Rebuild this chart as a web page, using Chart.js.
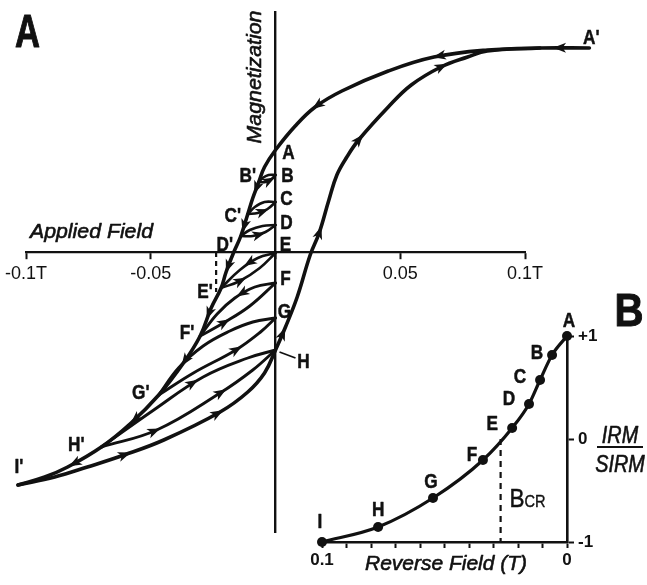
<!DOCTYPE html>
<html>
<head>
<meta charset="utf-8">
<script src="https://cdn.jsdelivr.net/npm/chart.js@4.4.1/dist/chart.umd.min.js"></script>
<style>
  html, body { margin: 0; padding: 0; background: #fff; }
  #wrap { position: relative; width: 647px; height: 585px; overflow: hidden; background: #fff; }
  #hyst { position: absolute; left: 0; top: 0; }
  #irm { position: absolute; left: 300px; top: 290px; }
</style>
</head>
<body>
<div id="wrap">
  <canvas id="hyst" width="647" height="585"></canvas>
  <canvas id="irm" width="347" height="295"></canvas>
</div>
<script>
// ---------- Panel A: hysteresis loop with backfield recoil loops ----------
// field in tesla, magnetization normalised to the saturation plateau
const fieldTicks = [-0.1, -0.05, 0, 0.05, 0.1];
const fieldTickLabels = ['-0.1T', '-0.05', '', '0.05', '0.1T'];

// upper (descending) branch, from A' down to I'
const descendingBranch = [
  [0.1258, 1.02], [0.1060, 1.02], [0.0849, 1.01], [0.0635, 0.975], [0.0452, 0.905],
  [0.0266, 0.805], [0.0159, 0.725], [0.0079, 0.63], [0, 0.51], [-0.0044, 0.425],
  [-0.0067, 0.35], [-0.0091, 0.27], [-0.0111, 0.19], [-0.0139, 0.08], [-0.0167, 0],
  [-0.0198, -0.10], [-0.0218, -0.18], [-0.0258, -0.28], [-0.0302, -0.42], [-0.0369, -0.555],
  [-0.0468, -0.715], [-0.0579, -0.855], [-0.0698, -0.975], [-0.0833, -1.075], [-0.0925, -1.125],
  [-0.1032, -1.165]
];
// lower (ascending) branch, from I' back up to A'
const ascendingBranch = [
  [-0.1032, -1.165], [-0.0885, -1.125], [-0.0754, -1.075], [-0.0607, -1.015], [-0.0448, -0.94],
  [-0.0222, -0.80], [-0.0111, -0.70], [-0.0044, -0.605], [0, -0.49], [0.0040, -0.375],
  [0.0087, -0.225], [0.0139, -0.015], [0.0175, 0.095], [0.0214, 0.26], [0.0246, 0.385],
  [0.0286, 0.475], [0.0333, 0.56], [0.0452, 0.725], [0.0544, 0.835], [0.0663, 0.925],
  [0.0770, 0.975], [0.0849, 1.005], [0.1060, 1.02]
];

// recoil loops: "Down" runs from the remanence point X to X', "Up" from X' back to X
const loopBDown = [[0, 0.385], [-0.0028, 0.385], [-0.0052, 0.37], [-0.0067, 0.35]];
const loopBUp   = [[-0.0067, 0.35], [-0.0040, 0.35], [-0.0016, 0.365], [0, 0.385]];
const loopCDown = [[0, 0.25], [-0.0044, 0.25], [-0.0083, 0.225], [-0.0111, 0.19]];
const loopCUp   = [[-0.0111, 0.19], [-0.0071, 0.195], [-0.0032, 0.215], [0, 0.25]];
const loopDDown = [[0, 0.135], [-0.0052, 0.13], [-0.0103, 0.11], [-0.0139, 0.08]];
const loopDUp   = [[-0.0139, 0.08], [-0.0091, 0.08], [-0.0040, 0.10], [0, 0.135]];
const loopEDown = [[0, -0.005], [-0.0071, -0.03], [-0.0143, -0.09], [-0.0218, -0.18]];
const loopEUp   = [[-0.0218, -0.18], [-0.0143, -0.145], [-0.0063, -0.08], [0, -0.005]];
const loopFDown = [[0, -0.155], [-0.0083, -0.175], [-0.0163, -0.23], [-0.0234, -0.31], [-0.0302, -0.42]];
const loopFUp   = [[-0.0302, -0.42], [-0.0202, -0.35], [-0.0103, -0.27], [0, -0.155]];
const loopGDown = [[0, -0.33], [-0.0091, -0.35], [-0.0183, -0.395], [-0.0290, -0.47], [-0.0389, -0.58], [-0.0468, -0.715]];
const loopGUp   = [[-0.0468, -0.715], [-0.0329, -0.605], [-0.0159, -0.49], [-0.0060, -0.40], [0, -0.33]];
const loopHDown = [[0, -0.49], [-0.0111, -0.53], [-0.0290, -0.625], [-0.0488, -0.79], [-0.0698, -0.975]];
const loopHUp   = [[-0.0698, -0.975], [-0.0476, -0.89], [-0.0222, -0.705], [-0.0091, -0.59], [0, -0.49]];

// dashed marker dropped from the axis below D'
const coercivityMarkA = [[-0.0238, 0], [-0.0238, -0.2]];

// ---------- Panel B: IRM / SIRM against reverse field ----------
const irmSteps = ['A', 'B', 'C', 'D', 'E', 'F', 'G', 'H', 'I'];
const reverseField = [0, 0.0061, 0.0110, 0.0155, 0.0224, 0.0343, 0.0547, 0.0771, 0.1];
const irmRatio = [1, 0.816, 0.573, 0.34, 0.107, -0.204, -0.573, -0.854, -1];
const coercivityOfRemanence = 0.0271;
const reverseFieldTicks = [0, 0.01, 0.02, 0.03, 0.04, 0.05, 0.06, 0.07, 0.08, 0.09, 0.1];
const reverseFieldTickLabels = ['0', '', '', '', '', '', '', '', '', '', '0.1'];
const irmTicks = [-1, 0, 1];
const irmTickLabels = ['-1', '0', '+1'];

// ---------- drawing helpers ----------
const INK = '#111';
const SANS = '"Liberation Sans", Arial, Helvetica, sans-serif';
const NARROW = '"Liberation Sans Narrow", "Liberation Sans", Arial, sans-serif';
const LETTER_FONT = 'bold 20px ' + SANS;
const TITLE_FONT = 'italic 21px ' + SANS;
const PANEL_FONT = 'bold 47px ' + SANS;

// text squeezed horizontally to a given width (or scale), with a thin outline for weight
function drawText(ctx, text, x, y, font, fit, align, baseline, rotation, weight) {
  ctx.save();
  ctx.font = font;
  ctx.textAlign = align;
  ctx.textBaseline = baseline;
  let sx = 1;
  if (fit && fit.width) sx = fit.width / ctx.measureText(text).width;
  else if (fit && fit.scale) sx = fit.scale;
  ctx.translate(x, y);
  if (rotation) ctx.rotate(rotation);
  ctx.scale(sx, 1);
  ctx.fillText(text, 0, 0);
  if (weight) {
    ctx.lineWidth = weight;
    ctx.lineJoin = 'round';
    ctx.strokeText(text, 0, 0);
  }
  ctx.restore();
}

// position and tangent on the rendered spline between two points
function bezierAt(points, seg, t) {
  const a = points[seg], b = points[seg + 1];
  const p0x = a.x, p0y = a.y, p3x = b.x, p3y = b.y;
  const p1x = a.cp2x ?? a.x, p1y = a.cp2y ?? a.y;
  const p2x = b.cp1x ?? b.x, p2y = b.cp1y ?? b.y;
  const m = 1 - t;
  const x = m * m * m * p0x + 3 * m * m * t * p1x + 3 * m * t * t * p2x + t * t * t * p3x;
  const y = m * m * m * p0y + 3 * m * m * t * p1y + 3 * m * t * t * p2y + t * t * t * p3y;
  let dx = 3 * m * m * (p1x - p0x) + 6 * m * t * (p2x - p1x) + 3 * t * t * (p3x - p2x);
  let dy = 3 * m * m * (p1y - p0y) + 6 * m * t * (p2y - p1y) + 3 * t * t * (p3y - p2y);
  if (Math.hypot(dx, dy) < 1e-6) { dx = p3x - p0x; dy = p3y - p0y; }
  return { x, y, dx, dy };
}

function arrowHead(ctx, x, y, ang) {
  const len = 13, half = 5;
  ctx.save();
  ctx.translate(x, y);
  ctx.rotate(ang);
  ctx.beginPath();
  ctx.moveTo(len * 0.55, 0);
  ctx.lineTo(-len * 0.45, -half);
  ctx.lineTo(-len * 0.18, 0);
  ctx.lineTo(-len * 0.45, half);
  ctx.closePath();
  ctx.fill();
  ctx.restore();
}

// ---------- panel A datasets ----------
const curvesA = [
  ['descending', descendingBranch, 3.6],
  ['ascending', ascendingBranch, 3.6],
  ['loopBDown', loopBDown, 2.6], ['loopBUp', loopBUp, 2.6],
  ['loopCDown', loopCDown, 2.6], ['loopCUp', loopCUp, 2.6],
  ['loopDDown', loopDDown, 2.6], ['loopDUp', loopDUp, 2.6],
  ['loopEDown', loopEDown, 2.6], ['loopEUp', loopEUp, 2.6],
  ['loopFDown', loopFDown, 2.9], ['loopFUp', loopFUp, 2.9],
  ['loopGDown', loopGDown, 2.9], ['loopGUp', loopGUp, 2.9],
  ['loopHDown', loopHDown, 2.9], ['loopHUp', loopHUp, 2.9]
];
const curveIndex = {};
const datasetsA = curvesA.map(([name, pts, w], i) => {
  curveIndex[name] = i;
  return {
    label: name,
    data: pts.map(p => ({ x: p[0], y: p[1] })),
    borderColor: INK, borderWidth: w, pointRadius: 0, tension: 0.4,
    borderCapStyle: 'round', borderJoinStyle: 'round', fill: false, clip: false
  };
});
datasetsA.push({
  label: 'coercivityMarkA',
  data: coercivityMarkA.map(p => ({ x: p[0], y: p[1] })),
  borderColor: INK, borderWidth: 2.2, borderDash: [5, 4], pointRadius: 0, tension: 0, clip: false
});

// arrowheads: curve, segment, position along segment, direction (+1 along the data order)
const arrowsA = [
  ['descending', 0, 0.6, 1], ['descending', 2, 0.9, 1], ['descending', 5, 0.9, 1],
  ['descending', 10, 0.3, 1], ['descending', 12, 0.5, 1], ['descending', 14, 0.7, 1],
  ['descending', 17, 0.15, 1], ['descending', 18, 0.9, 1], ['descending', 20, 0.85, 1],
  ['descending', 22, 0.8, 1],
  ['ascending', 3, 0.0, 1], ['ascending', 4, 0.95, 1], ['ascending', 8, 0.7, 1],
  ['ascending', 12, 0.0, 1], ['ascending', 16, 0.0, 1], ['ascending', 19, 0.0, 1],
  ['loopBUp', 1, 0.5, 1], ['loopCUp', 1, 0.4, 1], ['loopDUp', 1, 0.4, 1],
  ['loopEDown', 1, 0.4, 1], ['loopEUp', 1, 0.0, 1],
  ['loopFDown', 1, 0.6, 1], ['loopFUp', 0, 0.95, 1],
  ['loopGUp', 2, 0.0, 1],
  ['loopHDown', 2, 0.2, -1], ['loopHUp', 0, 0.95, 1], ['loopHUp', 2, 0.0, 1]
];

// letter labels: text, curve, point index, pixel offset
const labelsA = [
  ["A'", 'descending', 0, 2, -10],
  ['A', 'descending', 8, 13, 3.5],
  ['B', 'loopBDown', 0, 12, 1],
  ['C', 'loopCDown', 0, 11, -2.5],
  ['D', 'loopDDown', 0, 11, -2],
  ['E', 'loopEDown', 0, 10, -8],
  ['F', 'loopFDown', 0, 10, -4],
  ['G', 'loopGDown', 0, 9, -6],
  ['H', 'loopHDown', 0, 28, 12],
  ["B'", 'descending', 10, -11, -6],
  ["C'", 'descending', 12, -15, 2],
  ["D'", 'descending', 13, -16, 9],
  ["E'", 'descending', 16, -16, 4],
  ["F'", 'descending', 18, -13, -3],
  ["G'", 'descending', 20, -18, -2],
  ["H'", 'descending', 22, -25, -2],
  ["I'", 'descending', 25, 1, -18]
];

const annotateA = {
  id: 'annotateA',
  afterDatasetsDraw(chart) {
    const ctx = chart.ctx;
    const pts = name => chart.getDatasetMeta(curveIndex[name]).data;
    ctx.save();
    ctx.fillStyle = INK;
    ctx.strokeStyle = INK;
    arrowsA.forEach(([name, seg, t, dir]) => {
      const p = bezierAt(pts(name), seg, t);
      arrowHead(ctx, p.x, p.y, Math.atan2(p.dy, p.dx) + (dir < 0 ? Math.PI : 0));
    });
    labelsA.forEach(([txt, name, idx, dx, dy]) => {
      const p = pts(name)[idx];
      drawText(ctx, txt, p.x + dx, p.y + dy, LETTER_FONT, { scale: 0.86 }, 'center', 'middle', 0, 0.5);
    });
    // leader from the H label to its point on the axis
    const h = pts('loopHDown')[0];
    ctx.lineWidth = 1.8;
    ctx.beginPath();
    ctx.moveTo(h.x + 4, h.y + 2);
    ctx.lineTo(h.x + 20, h.y + 8);
    ctx.stroke();
    // axis titles and panel letter
    const x0 = chart.scales.x.getPixelForValue(0);
    const y0 = chart.scales.y.getPixelForValue(0);
    const area = chart.chartArea;
    drawText(ctx, 'Magnetization', x0 - 20, area.top + 65, TITLE_FONT, { width: 133 }, 'center', 'middle', -Math.PI / 2, 0.6);
    drawText(ctx, 'Applied Field', area.left + 65.5, y0 - 14, TITLE_FONT, { width: 123 }, 'center', 'alphabetic', 0, 0.6);
    drawText(ctx, 'A', area.left + 1.5, area.top + 35, PANEL_FONT, { width: 25 }, 'center', 'alphabetic', 0, 1);
    ctx.restore();
  }
};

new Chart(document.getElementById('hyst'), {
  type: 'line',
  data: { datasets: datasetsA },
  options: {
    responsive: false,
    animation: false,
    events: [],
    devicePixelRatio: 1,
    layout: { padding: { left: 21, right: 122, top: 12, bottom: 53 }, autoPadding: false },
    plugins: { legend: { display: false }, tooltip: { enabled: false } },
    elements: { line: { capBezierPoints: false } },
    scales: {
      x: {
        type: 'linear', min: -0.1, max: 0.1, position: { y: 0 },
        afterFit: s => { s.height = 0; },
        afterBuildTicks: s => { s.ticks = fieldTicks.map(v => ({ value: v })); },
        ticks: {
          autoSkip: false, maxRotation: 0, padding: 5, color: INK,
          font: { family: NARROW, size: 18 },
          callback: (v, i) => fieldTickLabels[i]
        },
        grid: { drawOnChartArea: false, drawTicks: true, tickLength: 6, tickWidth: 2, tickColor: INK },
        border: { display: true, color: INK, width: 2.2 }
      },
      y: {
        type: 'linear', min: -1.4, max: 1.2, position: { x: 0 },
        afterFit: s => { s.width = 0; },
        ticks: { display: false },
        grid: { drawOnChartArea: false, drawTicks: false },
        border: { display: true, color: INK, width: 2.4 }
      }
    }
  },
  plugins: [annotateA]
});

// ---------- panel B chart ----------
const irmLabelOffsets = [[2, -15], [-15, -1], [-20, -2], [-20, -4], [-20, -3], [-11, -5], [-2, -16], [0, -16], [-2, -20]];

const annotateB = {
  id: 'annotateB',
  afterDatasetsDraw(chart) {
    const ctx = chart.ctx;
    const area = chart.chartArea;
    const pts = chart.getDatasetMeta(0).data;
    const y0 = chart.scales.y.getPixelForValue(0);
    const xb = chart.scales.x.getPixelForValue(coercivityOfRemanence);
    ctx.save();
    ctx.fillStyle = INK;
    ctx.strokeStyle = INK;
    irmSteps.forEach((s, i) => {
      const o = irmLabelOffsets[i];
      drawText(ctx, s, pts[i].x + o[0], pts[i].y + o[1], LETTER_FONT, { scale: 0.86 }, 'center', 'middle', 0, 0.5);
    });
    // IRM / SIRM fraction beside the axis
    const fracX = area.right + 53;
    drawText(ctx, 'IRM', fracX, y0 + 4, 'italic 23px ' + SANS, { scale: 0.86 }, 'center', 'alphabetic', 0, 0.6);
    ctx.lineWidth = 2;
    ctx.beginPath();
    ctx.moveTo(area.right + 30, y0 + 8);
    ctx.lineTo(area.right + 76, y0 + 8);
    ctx.stroke();
    drawText(ctx, 'SIRM', fracX, y0 + 33, 'italic 23px ' + SANS, { scale: 0.86 }, 'center', 'alphabetic', 0, 0.6);
    // B_CR next to the dashed marker
    drawText(ctx, 'B', xb + 9, area.bottom - 35, '26px ' + SANS, { width: 15 }, 'left', 'alphabetic', 0, 0.5);
    drawText(ctx, 'CR', xb + 24, area.bottom - 35, '16px ' + SANS, { width: 21 }, 'left', 'alphabetic', 0, 0.4);
    // axis title and panel letter
    drawText(ctx, 'Reverse Field (T)', (area.left + area.right) / 2 + 1.5, area.bottom + 28, TITLE_FONT, { width: 162 }, 'center', 'alphabetic', 0, 0.6);
    drawText(ctx, 'B', area.right + 62, area.top - 10, PANEL_FONT, { width: 29 }, 'center', 'alphabetic', 0, 1);
    ctx.restore();
  }
};

new Chart(document.getElementById('irm'), {
  type: 'line',
  data: {
    datasets: [
      {
        label: 'IRM/SIRM',
        data: reverseField.map((f, i) => ({ x: f, y: irmRatio[i] })),
        borderColor: INK, borderWidth: 3.2, cubicInterpolationMode: 'monotone',
        pointRadius: 5, pointBackgroundColor: INK, pointBorderColor: INK, pointBorderWidth: 0,
        borderCapStyle: 'round', fill: false, clip: false
      },
      {
        label: 'Bcr',
        data: [{ x: coercivityOfRemanence, y: 0 }, { x: coercivityOfRemanence, y: -1 }],
        borderColor: INK, borderWidth: 2.2, borderDash: [6, 5], pointRadius: 0, tension: 0, clip: false
      }
    ]
  },
  options: {
    responsive: false,
    animation: false,
    events: [],
    devicePixelRatio: 1,
    layout: { padding: { left: 22, right: 40, top: 46, bottom: 13 }, autoPadding: false },
    plugins: { legend: { display: false }, tooltip: { enabled: false } },
    scales: {
      x: {
        type: 'linear', reverse: true, min: 0, max: 0.1, position: 'bottom',
        afterFit: s => { s.height = 30; },
        afterBuildTicks: s => { s.ticks = reverseFieldTicks.map(v => ({ value: v })); },
        ticks: {
          autoSkip: false, maxRotation: 0, padding: 2, color: INK,
          font: { family: NARROW, size: 17, weight: 'bold' },
          callback: (v, i) => reverseFieldTickLabels[i]
        },
        grid: { drawOnChartArea: false, tickLength: 6, tickWidth: 2, tickColor: INK },
        border: { display: true, color: INK, width: 2.6 }
      },
      y: {
        type: 'linear', min: -1, max: 1, position: 'right',
        afterFit: s => { s.width = 40; },
        afterBuildTicks: s => { s.ticks = irmTicks.map(v => ({ value: v })); },
        ticks: {
          padding: 4, color: INK,
          font: { family: NARROW, size: 17, weight: 'bold' },
          callback: (v, i) => irmTickLabels[i]
        },
        grid: { drawOnChartArea: false, tickLength: 7, tickWidth: 2, tickColor: INK },
        border: { display: true, color: INK, width: 2.6 }
      }
    }
  },
  plugins: [annotateB]
});
</script>
</body>
</html>
